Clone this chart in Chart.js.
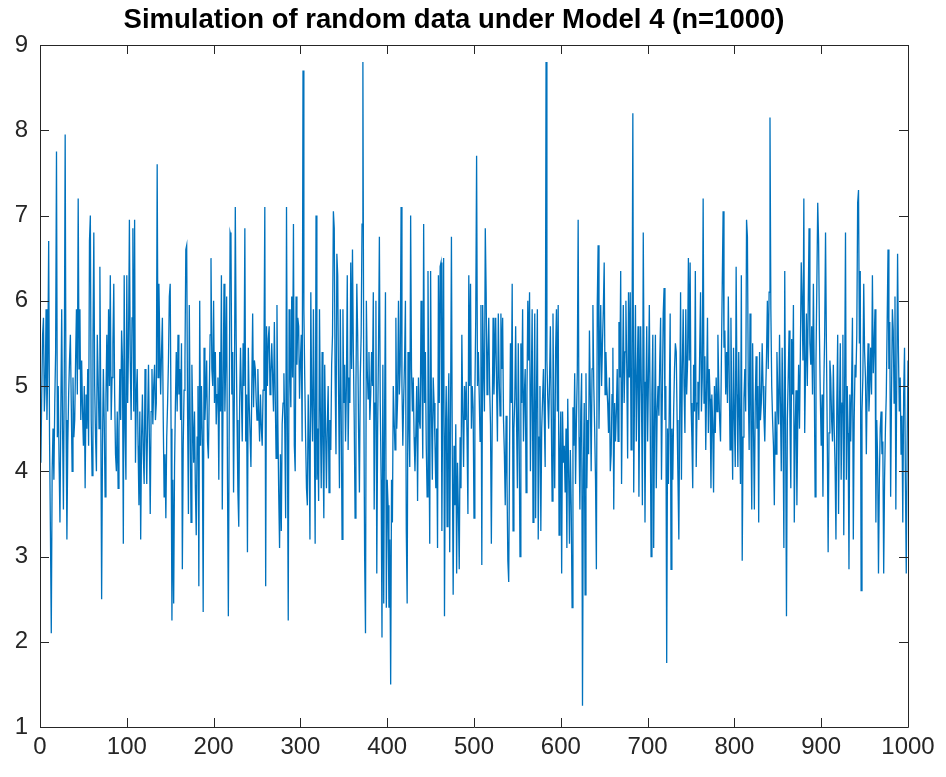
<!DOCTYPE html>
<html>
<head>
<meta charset="utf-8">
<script src="https://cdn.jsdelivr.net/npm/chart.js@4.4.1/dist/chart.umd.min.js"></script>
<style>
  html, body { margin: 0; padding: 0; background: #fff; }
  #wrap { width: 946px; height: 777px; }
</style>
</head>
<body>
<div id="wrap"><canvas id="chart"></canvas></div>
<script>
const titleText = 'Simulation of random data under Model 4 (n=1000)';
const xTicks = [0, 100, 200, 300, 400, 500, 600, 700, 800, 900, 1000];
const yTicks = [1, 2, 3, 4, 5, 6, 7, 8, 9];

// values, 100 samples per block
const vals1 = [4.1,4.9,5.6,5.8,4.7,5.0,5.9,4.6,5.3,6.7, 4.4,3.3,2.1,4.0,4.5,3.9,4.8,5.4,7.75,4.4,
  5.0,4.1,3.4,4.7,5.9,4.5,3.55,5.2,7.95,4.6, 3.2,4.3,4.9,5.3,5.6,4.8,4.0,5.1,4.4,4.6,
  5.3,5.9,4.9,7.2,5.2,5.9,4.6,5.3,4.7,4.3, 5.0,3.8,4.9,4.5,5.2,4.3,6.7,7.0,4.6,3.95,
  5.5,6.8,5.0,4.4,4.0,5.6,5.1,4.5,6.4,4.8, 2.5,4.3,5.2,4.6,3.7,4.9,5.6,4.7,5.9,5.0,
  6.3,4.6,5.1,5.5,6.2,4.9,4.2,4.0,4.7,3.8, 4.5,5.2,4.6,5.65,5.3,3.15,6.3,4.5,3.9,6.3];
const vals2 = [4.8,5.5,6.95,5.3,4.6,5.8,6.85,4.7,6.95,4.1, 4.9,5.2,4.3,3.6,4.7,3.2,4.4,4.9,4.2,3.85,
  5.2,4.5,3.85,4.6,5.25,4.4,3.5,4.7,5.2,4.55, 5.0,5.25,4.6,4.8,7.6,5.1,6.2,5.5,4.9,5.4,
  5.8,4.6,3.7,4.2,3.45,4.4,4.8,5.3,6.05,6.2, 4.5,2.25,3.9,2.45,4.05,4.8,5.4,4.7,5.6,4.9,
  5.2,4.6,5.5,2.85,4.3,4.95,5.3,6.6,6.65,4.7, 3.5,5.95,4.6,3.4,5.25,4.6,4.1,4.7,3.8,3.25,
  4.4,5.0,2.65,6.0,4.3,5.0,4.4,2.35,5.45,4.6, 4.9,5.3,4.35,4.15,4.9,5.6,6.5,5.2,5.0,6.0];
const vals3 = [4.8,5.4,4.55,4.9,5.1,3.9,5.4,4.7,6.3,3.55, 5.0,6.2,4.7,5.3,6.05,3.9,2.3,4.6,6.8,6.75,
  4.9,5.4,3.75,5.0,7.1,5.55,4.6,3.75,3.35,4.8, 5.45,4.9,4.35,5.5,5.0,6.85,4.35,4.9,3.05,5.45,
  4.8,4.45,4.05,5.0,5.85,4.75,5.3,5.2,4.85,4.6, 5.2,4.7,4.35,4.9,4.5,4.3,4.95,5.3,7.1,2.65,
  5.7,5.0,5.55,5.7,4.9,5.15,5.5,5.1,4.7,5.75, 4.9,4.15,5.95,4.6,3.75,3.1,4.2,3.3,4.55,4.8,
  5.15,4.5,3.45,7.1,4.5,2.25,5.9,5.2,4.75,6.05, 5.1,6.9,4.3,4.0,6.05,5.25,5.8,5.7,4.85,5.3];
const vals4 = [5.6,4.35,8.7,5.9,5.1,4.4,3.8,3.6,4.9,4.3, 3.2,6.1,4.8,4.35,5.9,4.6,3.15,7.0,3.9,4.5,
  3.65,5.9,4.7,3.8,5.4,4.3,3.45,5.25,4.5,3.8, 4.55,5.0,3.75,4.6,4.25,5.25,5.6,7.05,6.85,5.1,
  4.2,6.55,6.3,4.9,3.8,5.9,4.7,3.2,5.9,4.8, 5.25,4.35,5.0,6.3,4.25,5.1,4.8,6.45,5.2,6.6,
  5.4,4.6,3.45,5.0,6.2,5.6,4.5,3.75,5.1,5.6, 6.9,8.8,5.0,3.0,2.1,6.0,5.2,4.85,5.4,4.6,
  4.9,5.4,5.0,6.1,3.55,4.8,6.0,2.8,4.5,5.45, 6.75,4.8,3.9,2.05,5.25,2.45,4.7,6.1,2.4,3.9];
const vals5 = [3.6,2.4,3.2,1.5,3.9,3.4,5.0,4.6,4.25,5.8, 4.5,4.85,6.0,4.9,5.25,7.1,5.0,4.3,4.85,5.3,
  6.0,3.3,2.45,5.4,4.6,4.05,7.0,5.2,4.7,5.1, 4.4,4.0,4.45,5.0,3.65,5.1,4.6,4.5,6.0,5.1,
  4.15,6.9,4.8,5.4,4.3,3.7,6.35,4.6,3.15,6.35, 4.7,3.9,5.1,4.8,4.35,3.8,4.5,3.1,6.3,4.8,
  6.4,6.45,3.3,5.0,6.5,2.3,4.4,5.0,3.35,4.6, 5.15,3.05,4.7,6.75,4.2,2.55,4.3,3.6,4.55,2.8,
  4.1,3.55,2.85,4.4,3.8,5.6,4.7,4.05,5.0,4.6, 5.05,4.4,3.5,6.3,5.0,6.2,4.5,5.0,4.75,3.45];
const vals6 = [4.9,5.8,7.7,5.0,5.4,4.9,4.35,5.95,2.9,5.95, 5.2,4.7,6.85,6.1,4.9,5.35,5.8,5.0,4.55,3.15,
  4.6,5.8,4.9,5.4,5.8,5.0,4.35,5.85,5.1,4.65, 5.85,5.2,5.8,4.6,4.2,3.6,4.65,3.9,2.95,2.7,
  4.3,5.5,4.8,6.2,3.3,4.5,4.85,5.7,4.6,3.8, 5.5,4.4,3.0,5.5,4.8,5.9,4.35,4.9,5.2,3.75,
  4.9,6.0,5.3,6.1,4.0,5.0,5.9,3.4,4.7,5.85, 3.45,4.9,5.9,3.2,4.4,5.0,3.3,4.5,4.85,5.2,
  4.6,4.05,8.8,5.3,4.85,4.5,5.05,5.7,4.7,3.65, 5.85,4.6,3.8,5.4,5.9,4.7,5.95,3.25,4.2,4.7];
const vals7 = [2.8,4.7,4.1,4.3,3.75,4.5,3.1,4.85,4.0,3.15, 4.25,3.6,2.4,4.75,4.3,5.15,3.85,4.6,5.15,6.95,
  4.4,3.55,4.7,5.15,1.25,4.0,4.8,2.55,5.15,3.8, 4.6,4.2,5.65,4.9,4.0,5.2,5.95,5.0,4.5,3.9,
  2.85,5.95,6.65,4.5,5.3,5.95,5.0,5.5,5.9,6.45, 4.9,5.4,5.0,4.8,4.45,5.1,4.0,4.2,4.9,5.45,
  3.55,4.8,4.35,4.7,5.2,4.35,5.75,5.1,6.35,3.85, 5.0,5.95,4.8,5.4,6.0,5.2,4.15,6.1,5.1,6.1,
  4.25,5.3,8.2,3.75,5.0,5.95,4.35,5.1,5.7,3.7, 4.9,5.7,4.8,3.6,6.8,5.05,3.4,4.8,5.7,4.35];
const vals8 = [5.1,5.95,4.65,3.0,4.9,5.6,3.1,4.6,5.6,3.8, 4.7,5.0,4.65,5.3,5.8,3.9,4.9,5.85,6.15,4.6,
  5.0,1.75,4.5,3.85,4.8,5.85,2.85,4.5,3.9,4.7, 5.2,5.5,5.4,4.6,3.9,3.2,4.7,6.1,3.9,5.2,
  5.9,5.0,4.45,5.9,4.9,5.25,6.5,5.3,6.45,4.8, 4.4,3.8,5.25,4.7,6.35,4.05,4.8,5.05,4.6,5.4,
  6.1,4.7,5.1,7.2,4.8,5.35,4.25,5.0,5.8,4.45, 5.2,4.85,3.8,4.9,4.55,3.75,5.0,4.45,5.1,4.7,
  5.6,5.0,4.6,4.35,5.3,6.2,7.05,5.45,5.65,4.9, 5.4,4.8,6.05,5.15,4.25,5.8,4.7,3.9,5.45,4.6];
const vals9 = [4.05,6.4,4.9,4.05,5.4,4.6,3.85,6.3,2.95,4.4, 4.85,5.2,4.7,6.95,6.75,5.0,4.25,5.85,4.6,3.55,
  5.5,4.5,3.55,4.8,5.35,4.5,5.0,3.4,5.4,4.6, 4.8,5.5,5.0,4.65,4.35,4.9,5.35,6.0,5.2,6.1,
  8.15,5.9,5.0,4.6,4.3,3.6,4.7,4.2,5.4,4.9, 4.55,5.6,4.8,4.0,5.45,4.6,3.1,6.35,4.5,2.3,
  4.6,5.1,5.65,4.6,3.8,5.55,4.9,5.95,3.4,4.5, 4.95,3.6,4.6,5.25,4.5,5.4,6.45,6.0,5.3,7.2,
  4.45,5.2,5.85,5.0,5.9,6.85,5.5,5.25,5.7,4.9, 6.2,5.1,3.7,5.3,6.2,7.15,6.7,5.6,4.85,4.3];
const vals10 = [4.9,3.7,5.0,5.6,6.8,5.5,4.4,3.05,4.45,5.3, 5.1,4.6,4.35,5.25,4.5,4.05,3.2,4.8,5.6,3.5,
  4.7,5.5,3.9,4.8,5.6,3.25,5.0,6.8,3.9,5.0, 4.45,2.85,4.9,4.35,5.0,5.8,3.2,4.6,5.25,5.1,
  5.6,7.15,7.3,5.5,6.35,2.6,4.7,5.1,6.2,5.4, 5.1,4.2,5.0,5.5,4.7,5.0,5.45,4.9,6.3,5.15,
  5.5,5.9,3.4,4.6,4.15,2.8,3.9,4.5,4.7,4.2, 4.35,2.8,3.9,4.5,4.9,5.75,6.6,5.2,5.75,3.7,
  4.9,5.9,5.65,4.8,6.05,3.55,5.0,6.55,5.4,4.7, 5.1,4.2,4.65,3.4,4.9,5.45,3.9,2.8,4.3,5.3];

const yValues = [].concat(vals1, vals2, vals3, vals4, vals5, vals6, vals7, vals8, vals9, vals10);
const points = yValues.map((v, i) => ({ x: i + 1, y: v }));

const axisColor = '#262626';
const fontFamily = '"Liberation Sans", Arial, Helvetica, sans-serif';

// MATLAB style box with inward tick marks on all four sides
const boxTicks = {
  id: 'boxTicks',
  afterDatasetsDraw(chart) {
    const { ctx, chartArea: a, scales: { x, y } } = chart;
    const len = 9;
    ctx.save();
    ctx.strokeStyle = axisColor;
    ctx.lineWidth = 1;
    ctx.beginPath();
    ctx.rect(Math.round(a.left) + 0.5, Math.round(a.top) + 0.5,
      Math.round(a.right) - Math.round(a.left), Math.round(a.bottom) - Math.round(a.top));
    x.ticks.forEach(t => {
      const px = Math.round(x.getPixelForValue(t.value)) + 0.5;
      ctx.moveTo(px, a.bottom); ctx.lineTo(px, a.bottom - len);
      ctx.moveTo(px, a.top); ctx.lineTo(px, a.top + len);
    });
    y.ticks.forEach(t => {
      const py = Math.round(y.getPixelForValue(t.value)) + 0.5;
      ctx.moveTo(a.left, py); ctx.lineTo(a.left + len, py);
      ctx.moveTo(a.right, py); ctx.lineTo(a.right - len, py);
    });
    ctx.stroke();
    ctx.restore();
  }
};

new Chart(document.getElementById('chart'), {
  type: 'line',
  data: {
    datasets: [{
      data: points,
      borderColor: '#0072BD',
      borderWidth: 1.3,
      pointRadius: 0,
      tension: 0,
      fill: false
    }]
  },
  options: {
    responsive: true,
    maintainAspectRatio: false,
    animation: false,
    events: [],
    layout: { padding: { left: 0, right: 38, top: 0, bottom: 0 } },
    plugins: {
      legend: { display: false },
      tooltip: { enabled: false },
      title: {
        display: true,
        text: titleText,
        color: '#000',
        font: { family: fontFamily, size: 27.5, weight: 'bold', lineHeight: 1.2 },
        padding: { top: 3.5, bottom: 8.5 }
      }
    },
    scales: {
      x: {
        type: 'linear',
        min: 0,
        max: 1000,
        afterBuildTicks: s => { s.ticks = xTicks.map(v => ({ value: v })); },
        afterFit: s => { s.height = 50; },
        grid: { display: false, drawTicks: false },
        border: { display: false },
        ticks: { color: axisColor, padding: 6, maxRotation: 0, autoSkip: false,
          callback: v => String(v),
          font: { family: fontFamily, size: 24 } }
      },
      y: {
        type: 'linear',
        min: 1,
        max: 9,
        afterBuildTicks: s => { s.ticks = yTicks.map(v => ({ value: v })); },
        afterFit: s => { s.width = 40; },
        grid: { display: false, drawTicks: false },
        border: { display: false },
        ticks: { color: axisColor, padding: 12, autoSkip: false,
          callback: v => String(v),
          font: { family: fontFamily, size: 24 } }
      }
    }
  },
  plugins: [boxTicks]
});
</script>
</body>
</html>
